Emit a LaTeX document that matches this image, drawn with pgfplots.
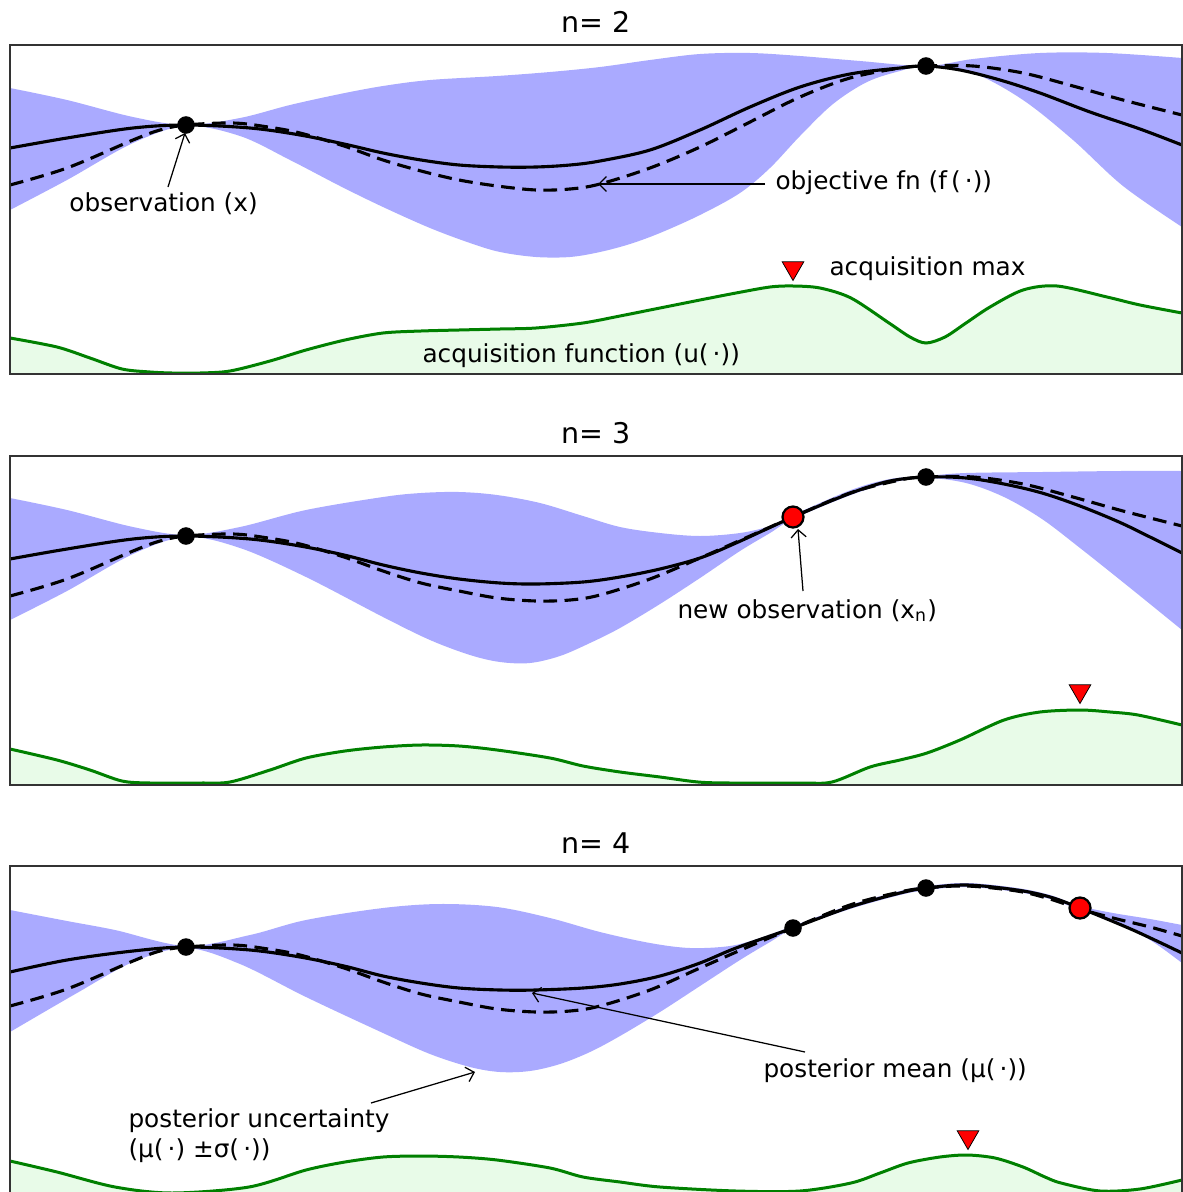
\documentclass[border=0pt]{standalone}
\usepackage{fontspec}
\setmainfont{DejaVu Sans}
\usepackage{pgfplots}
\pgfplotsset{compat=1.18}
\usepgfplotslibrary{fillbetween}
\usetikzlibrary{arrows.meta}
\definecolor{band}{RGB}{170,170,255}
\definecolor{gfill}{RGB}{232,251,232}
\definecolor{gline}{RGB}{0,128,0}
\newcommand{\lab}{\fontsize{9.9}{11.6}\selectfont}
\tikzset{arr/.style={-{Straight Barb[length=3pt,width=6pt]}, line width=0.5pt, black}}
\pgfplotsset{every axis title shift=0pt,
  panel/.style={anchor=north west, width=468.8pt, height=131.6pt, scale only axis,
  xmin=10, xmax=1182, y dir=reverse, xtick=\empty, ytick=\empty,
  axis line style={line width=0.7pt, black!80}, axis on top,
  title style={font=\fontsize{11.4}{13}\selectfont, at={(0.5,1)}, anchor=base, yshift=5.2pt, inner sep=0pt}},
  meanl/.style={black, line width=1.25pt, smooth, tension=0.55},
  objl/.style={black, line width=1.25pt, dash pattern=on 5.5pt off 3pt, smooth, tension=0.55},
  accl/.style={gline, line width=1.2pt, smooth, tension=0.5},
  bnd/.style={draw=none, smooth, tension=0.55},
  obs/.style={only marks, mark=*, mark size=3.3pt, black},
  newobs/.style={only marks, mark=*, mark size=4.2pt, mark options={fill=red, draw=black, line width=0.9pt}},
  amax/.style={only marks, mark=triangle*, mark size=5pt, mark options={rotate=180, fill=red, draw=black, line width=0.3pt}}
}
\begin{document}
\begin{tikzpicture}
% ---------------- panel 1 ----------------
\begin{axis}[panel, at={(4pt,-18pt)}, ymin=45, ymax=374, title={n= 2}]
\addplot[bnd, name path=U1] coordinates {(10,88) (67,100) (133,117) (186,125) (240,118) (290,105) (340,94) (383,86) (430,80) (497,76) (550,72) (600,67) (650,60) (700,54) (750,53) (800,56) (860,61) (926,66) (973,59) (1040,53) (1107,53) (1182,58)};
\addplot[bnd, name path=L1] coordinates {(10,210) (67,180) (133,143) (186,126) (240,136) (290,160) (340,186) (383,207) (430,228) (470,243) (500,252) (536,257) (570,257) (600,252) (630,244) (660,233) (700,215) (740,193) (770,168) (800,136) (833,104) (867,82) (900,71) (926,66) (973,73) (1023,100) (1073,140) (1123,186) (1182,227)};
\addplot[band] fill between[of=U1 and L1];
\addplot[bnd, name path=G1] coordinates {(10,338) (57,347) (90,358) (122,369) (150,372) (172,373) (200,373) (230,371) (270,361) (306,350) (345,340) (383,333) (421,331) (459,330) (500,329) (536,328) (583,323) (620,316) (660,308) (700,300) (736,293) (770,287) (793,286) (820,288) (851,298) (889,323) (910,337) (926,343) (945,337) (966,323) (990,307) (1023,290) (1057,286) (1107,297) (1140,305) (1182,313)};
\addplot[draw=none, name path=B1] coordinates {(10,374) (1182,374)};
\addplot[gfill] fill between[of=G1 and B1];
\addplot[accl] coordinates {(10,338) (57,347) (90,358) (122,369) (150,372) (172,373) (200,373) (230,371) (270,361) (306,350) (345,340) (383,333) (421,331) (459,330) (500,329) (536,328) (583,323) (620,316) (660,308) (700,300) (736,293) (770,287) (793,286) (820,288) (851,298) (889,323) (910,337) (926,343) (945,337) (966,323) (990,307) (1023,290) (1057,286) (1107,297) (1140,305) (1182,313)};
\addplot[meanl] coordinates {(10,148) (67,138) (133,128) (186,125) (250,128) (300,135) (344,144) (383,153) (421,160) (459,165) (500,167) (536,167) (570,165) (600,161) (650,150) (700,130) (750,107) (800,87) (850,74) (900,68) (926,66) (960,70) (1000,80) (1040,93) (1090,112) (1140,129) (1182,145)};
\addplot[objl] coordinates {(10,185) (67,168) (133,140) (160,130) (186,125) (233,123) (268,127) (300,133) (344,146) (383,160) (421,171) (459,180) (497,186) (536,190) (570,189) (600,184) (650,168) (700,147) (750,122) (800,97) (850,78) (900,68) (926,66) (973,66) (1023,73) (1073,86) (1123,100) (1182,115)};
\addplot[obs] coordinates {(186,125) (926,66)};
\addplot[amax] coordinates {(793,268)};
\node[anchor=base west, inner sep=0, font=\lab] at (axis cs:69,211) {observation (x)};
\draw[arr] (axis cs:168,187) -- (axis cs:185,133);
\node[anchor=base west, inner sep=0, font=\lab] at (axis cs:775,189) {objective fn (f\,(\,·))};
\draw[arr] (axis cs:765,184) -- (axis cs:598,184);
\node[anchor=base west, inner sep=0, font=\lab] at (axis cs:829,275) {acquisition max};
\node[anchor=base west, inner sep=0, font=\lab] at (axis cs:422,362) {acquisition function (u(\,·))};
\end{axis}
% ---------------- panel 2 ----------------
\begin{axis}[panel, at={(4pt,-182.4pt)}, ymin=456, ymax=785, title={n= 3}]
\addplot[bnd, name path=U2] coordinates {(10,498) (67,510) (133,527) (186,535) (240,527) (306,510) (383,497) (421,493) (459,492) (497,495) (540,503) (583,516) (620,527) (660,533) (700,536) (740,533) (770,526) (793,515) (851,490) (890,479) (926,476) (966,473) (1042,472) (1120,471) (1182,471)};
\addplot[bnd, name path=L2] coordinates {(10,620) (67,591) (133,554) (186,537) (240,548) (306,577) (383,617) (430,640) (470,655) (500,662) (530,663) (560,656) (590,643) (620,628) (660,604) (700,578) (740,551) (770,533) (793,519) (851,495) (890,483) (926,478) (966,483) (1004,497) (1042,519) (1080,548) (1119,579) (1150,604) (1182,630)};
\addplot[band] fill between[of=U2 and L2];
\addplot[bnd, name path=G2] coordinates {(10,749) (57,760) (90,770) (122,781) (150,783) (200,783) (230,782) (270,770) (306,758) (345,751) (383,747) (421,745) (459,746) (497,750) (550,758) (583,766) (620,772) (660,777) (698,782) (730,783) (800,783) (832,782) (870,767) (900,760) (927,753) (960,740) (1004,720) (1040,712) (1080,710) (1110,712) (1138,715) (1182,725)};
\addplot[draw=none, name path=B2] coordinates {(10,785) (1182,785)};
\addplot[gfill] fill between[of=G2 and B2];
\addplot[accl] coordinates {(10,749) (57,760) (90,770) (122,781) (150,783) (200,783) (230,782) (270,770) (306,758) (345,751) (383,747) (421,745) (459,746) (497,750) (550,758) (583,766) (620,772) (660,777) (698,782) (730,783) (800,783) (832,782) (870,767) (900,760) (927,753) (960,740) (1004,720) (1040,712) (1080,710) (1110,712) (1138,715) (1182,725)};
\addplot[meanl] coordinates {(10,559) (67,549) (133,539) (186,536) (250,539) (300,546) (344,555) (383,565) (421,573) (459,579) (500,583) (536,584) (583,582) (620,577) (660,569) (700,558) (736,543) (793,517) (851,493) (890,481) (926,477) (966,478) (1004,484) (1042,493) (1080,506) (1119,522) (1150,537) (1182,553)};
\addplot[objl] coordinates {(10,596) (67,579) (133,551) (160,541) (186,536) (233,534) (268,538) (300,544) (344,557) (383,571) (421,583) (459,591) (497,598) (536,601) (570,600) (600,595) (650,579) (700,558) (750,536) (793,517) (850,493) (900,480) (926,477) (973,477) (1023,484) (1073,497) (1123,511) (1182,526)};
\addplot[obs] coordinates {(186,536) (926,477)};
\addplot[newobs] coordinates {(793,517)};
\addplot[amax] coordinates {(1080,691)};
\node[anchor=base west, inner sep=0, font=\lab] at (axis cs:677,618) {new observation (x\textsubscript{n})};
\draw[arr] (axis cs:803,591) -- (axis cs:798,529);
\end{axis}
% ---------------- panel 3 ----------------
\begin{axis}[panel, at={(4pt,-346.4pt)}, ymin=866, ymax=1195, title={n= 4}]
\addplot[bnd, name path=U3] coordinates {(10,910) (67,921) (115,930) (186,946) (250,935) (306,920) (383,908) (440,904) (497,907) (550,918) (600,932) (650,943) (690,948) (730,946) (760,938) (793,926) (850,905) (900,891) (927,886) (967,883) (1017,888) (1050,895) (1080,906) (1113,913) (1150,919) (1182,925)};
\addplot[bnd, name path=L3] coordinates {(10,1032) (77,993) (133,962) (186,948) (240,964) (306,997) (383,1033) (430,1054) (470,1067) (500,1072) (530,1071) (560,1064) (590,1052) (620,1036) (660,1012) (700,986) (740,960) (770,942) (793,929) (850,909) (900,895) (927,890) (967,887) (1017,892) (1050,899) (1080,910) (1113,922) (1150,940) (1182,963)};
\addplot[band] fill between[of=U3 and L3];
\addplot[bnd, name path=G3] coordinates {(10,1161) (57,1172) (115,1187) (172,1193) (249,1187) (306,1170) (345,1162) (383,1157) (421,1156) (459,1157) (497,1160) (550,1168) (583,1177) (620,1182) (660,1187) (736,1191) (800,1191) (851,1183) (880,1173) (908,1163) (940,1157) (967,1155) (995,1158) (1023,1167) (1045,1177) (1061,1183) (1100,1191) (1140,1189) (1182,1180)};
\addplot[draw=none, name path=B3] coordinates {(10,1195) (1182,1195)};
\addplot[gfill] fill between[of=G3 and B3];
\addplot[accl] coordinates {(10,1161) (57,1172) (115,1187) (172,1193) (249,1187) (306,1170) (345,1162) (383,1157) (421,1156) (459,1157) (497,1160) (550,1168) (583,1177) (620,1182) (660,1187) (736,1191) (800,1191) (851,1183) (880,1173) (908,1163) (940,1157) (967,1155) (995,1158) (1023,1167) (1045,1177) (1061,1183) (1100,1191) (1140,1189) (1182,1180)};
\addplot[meanl] coordinates {(10,972) (67,960) (133,951) (186,947) (250,950) (300,957) (344,966) (383,976) (421,983) (459,988) (500,990) (536,990) (583,988) (620,984) (660,976) (700,963) (736,948) (793,928) (850,907) (900,893) (927,888) (967,885) (1017,890) (1050,897) (1080,908) (1133,930) (1182,953)};
\addplot[objl] coordinates {(10,1006) (67,989) (133,961) (160,951) (186,947) (233,945) (268,949) (300,955) (344,968) (383,982) (421,994) (459,1002) (497,1009) (536,1012) (570,1011) (600,1006) (650,990) (700,968) (750,946) (793,928) (850,905) (900,892) (926,888) (967,886) (1017,891) (1050,899) (1080,909) (1113,918) (1150,927) (1182,936)};
\addplot[obs] coordinates {(186,947) (793,928) (926,888)};
\addplot[newobs] coordinates {(1080,908)};
\addplot[amax] coordinates {(968,1137)};
\node[anchor=base west, inner sep=0, font=\lab] at (axis cs:763,1077) {posterior mean (μ(\,·))};
\draw[arr] (axis cs:805,1052) -- (axis cs:532,993);
\node[anchor=base west, inner sep=0, font=\lab] at (axis cs:128,1127) {posterior uncertainty};
\node[anchor=base west, inner sep=0, font=\lab] at (axis cs:128,1157) {(μ(\,·) ±σ(\,·))};
\draw[arr] (axis cs:371,1103) -- (axis cs:475,1072);
\end{axis}
\pgfresetboundingbox
\path[use as bounding box] (0,0) rectangle (473.2pt,-476.8pt);
\end{tikzpicture}
\end{document}
